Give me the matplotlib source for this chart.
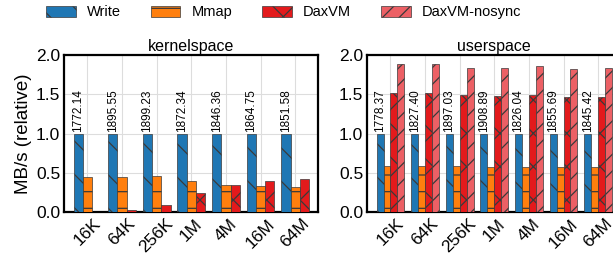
import matplotlib
matplotlib.use("Agg")
import matplotlib.pyplot as plt
import numpy as np
from matplotlib.patches import Patch

plt.rcParams['font.family'] = ['Liberation Sans', 'DejaVu Sans']
plt.rcParams['hatch.linewidth'] = 0.9
plt.rcParams['hatch.color'] = 'black'

sizes = ["16K", "64K", "256K", "1M", "4M", "16M", "64M"]
series = ["Write", "Mmap", "DaxVM", "DaxVM-nosync"]
colors = ["#1f77b4", "#ff7f0e", "#e31a1c", "#ec6065"]
hatches = ["\\", "-", "x", "//"]

kernel_write = [1.0, 1.0, 1.0, 1.0, 1.0, 1.0, 1.0]
kernel_mmap = [0.45, 0.45, 0.46, 0.40, 0.34, 0.33, 0.32]
kernel_daxvm = [0.0, 0.02, 0.09, 0.24, 0.35, 0.40, 0.42]
kernel_abs = ["1772.14", "1895.55", "1899.23", "1872.34", "1846.36", "1864.75", "1851.58"]

user_write = [1.0, 1.0, 1.0, 1.0, 1.0, 1.0, 1.0]
user_mmap = [0.59, 0.59, 0.58, 0.57, 0.57, 0.57, 0.57]
user_daxvm = [1.51, 1.52, 1.49, 1.48, 1.49, 1.46, 1.47]
user_nosync = [1.88, 1.89, 1.84, 1.83, 1.86, 1.82, 1.83]
user_abs = ["1778.37", "1827.40", "1897.03", "1908.89", "1826.04", "1855.69", "1845.42"]

fig = plt.figure(figsize=(6.13, 2.6), dpi=100)
W = 254 / 613
H = 157 / 260
B = 48 / 260
ax1 = fig.add_axes([64.3 / 613, B, W, H])
ax2 = fig.add_axes([367.3 / 613, B, W, H])

def draw(ax, data, labels, title):
    n = len(data)
    w = 0.8 / n
    x = np.arange(len(sizes))
    for k, vals in enumerate(data):
        ax.bar(x + (k - (n - 1) / 2) * w, vals, w, color=colors[k], hatch=hatches[k],
               edgecolor="#3a3a3a", linewidth=0.5, zorder=3)
    for i, lab in enumerate(labels):
        ax.text(x[i] - (n - 1) / 2 * w, data[0][i] + 0.02, lab, rotation=90,
                ha="center", va="bottom", fontsize=8.5, zorder=4)
    ax.set_xlim(-0.67, 6.67)
    ax.set_ylim(0, 2.0)
    ax.set_yticks([0, 0.5, 1.0, 1.5, 2.0])
    ax.set_yticklabels(["0.0", "0.5", "1.0", "1.5", "2.0"])
    ax.set_xticks(x)
    ax.set_xticklabels(sizes, rotation=45, ha="center", va="top", fontsize=12.5)
    ax.tick_params(axis="y", labelsize=12.5, length=0, pad=3)
    ax.tick_params(axis="x", length=0, pad=3)
    ax.grid(True, color="#dddddd", linewidth=0.8, zorder=0)
    ax.set_axisbelow(True)
    for s in ax.spines.values():
        s.set_linewidth(1.6)
        s.set_color("black")
    ax.set_title(title, fontsize=11.5, pad=3)

draw(ax1, [kernel_write, kernel_mmap, kernel_daxvm], kernel_abs, "kernelspace")
draw(ax2, [user_write, user_mmap, user_daxvm, user_nosync], user_abs, "userspace")
ax1.set_ylabel("MB/s (relative)", fontsize=13.5, labelpad=3)

handles = [Patch(facecolor=colors[k], hatch=hatches[k], edgecolor="#3a3a3a", linewidth=0.5)
           for k in range(4)]
fig.legend(handles, series, loc="upper center", ncol=4, frameon=False,
           bbox_to_anchor=(0.4625, 1.03), fontsize=10.5, handlelength=2.05,
           handleheight=0.75, columnspacing=2.05, handletextpad=0.75)

fig.savefig("out.png", dpi=100)
